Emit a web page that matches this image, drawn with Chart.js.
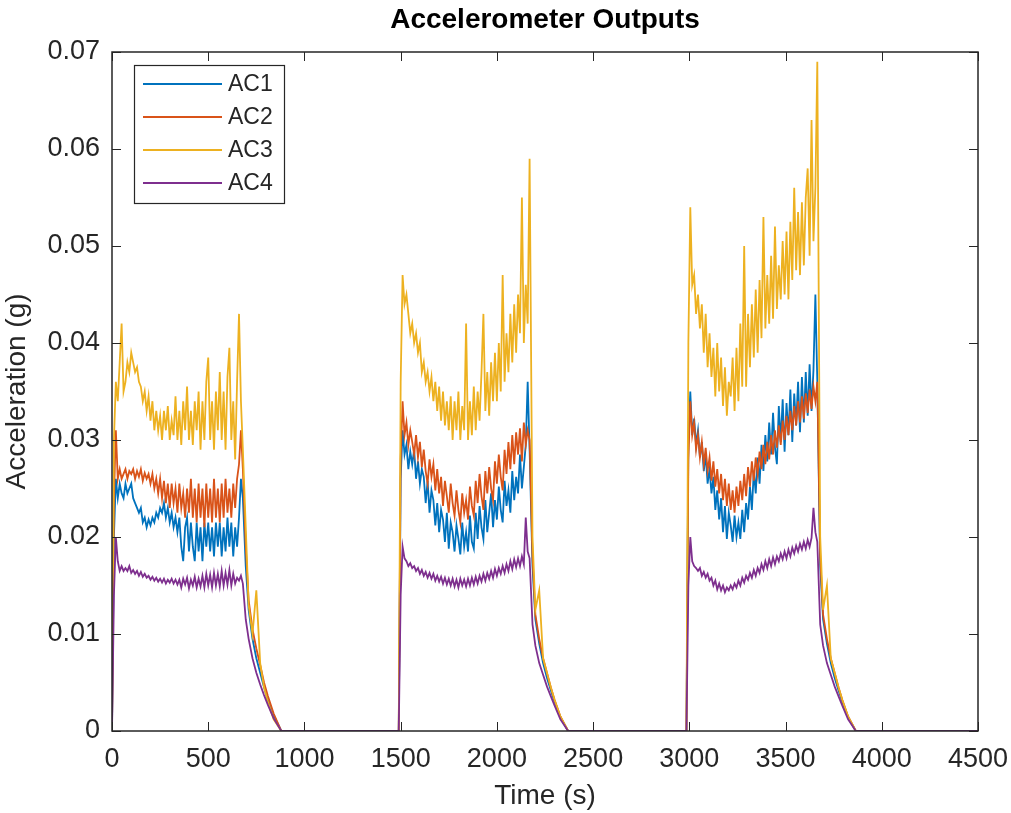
<!DOCTYPE html>
<html>
<head>
<meta charset="utf-8">
<title>Accelerometer Outputs</title>
<script src="https://cdn.jsdelivr.net/npm/chart.js@4.4.1/dist/chart.umd.min.js"></script>
<style>
  html, body { margin: 0; padding: 0; background: #fff; }
  #wrap { width: 1011px; height: 813px; }
</style>
</head>
<body>
<div id="wrap"><canvas id="accel" width="1011" height="813"></canvas></div>
<script>
// sample times (s): three test runs, each followed by the decay
const timeSec = [
  0, 10, 20, 30, 40, 50, 60, 70, 80, 90,
  100, 110, 120, 130, 140, 150, 160, 170, 180, 190,
  200, 210, 220, 230, 240, 250, 260, 270, 280, 290,
  300, 310, 320, 330, 340, 350, 360, 370, 380, 390,
  400, 410, 420, 430, 440, 450, 460, 470, 480, 490,
  500, 510, 520, 530, 540, 550, 560, 570, 580, 590,
  600, 610, 620, 630, 640, 650, 660, 670, 680,
  695, 710, 730, 750, 770, 790, 810, 840, 880,

  1490, 1500, 1510, 1520, 1530, 1540, 1550, 1560, 1570, 1580,
  1590, 1600, 1610, 1620, 1630, 1640, 1650, 1660, 1670, 1680,
  1690, 1700, 1710, 1720, 1730, 1740, 1750, 1760, 1770, 1780,
  1790, 1800, 1810, 1820, 1830, 1840, 1850, 1860, 1870, 1880,
  1890, 1900, 1910, 1920, 1930, 1940, 1950, 1960, 1970, 1980,
  1990, 2000, 2010, 2020, 2030, 2040, 2050, 2060, 2070, 2080,
  2090, 2100, 2110, 2120, 2130, 2140, 2150, 2160, 2170,
  2185, 2200, 2220, 2240, 2260, 2280, 2300, 2330, 2370,

  2985, 2995, 3005, 3015, 3025, 3035, 3045, 3055, 3065, 3075,
  3085, 3095, 3105, 3115, 3125, 3135, 3145, 3155, 3165, 3175,
  3185, 3195, 3205, 3215, 3225, 3235, 3245, 3255, 3265, 3275,
  3285, 3295, 3305, 3315, 3325, 3335, 3345, 3355, 3365, 3375,
  3385, 3395, 3405, 3415, 3425, 3435, 3445, 3455, 3465, 3475,
  3485, 3495, 3505, 3515, 3525, 3535, 3545, 3555, 3565, 3575,
  3585, 3595, 3605, 3615, 3625, 3635, 3645, 3655, 3665,
  3680, 3695, 3715, 3735, 3755, 3775, 3795, 3825, 3865,

  4500
];

// acceleration (g) per sensor
const ac1 = [
  0, 0.020, 0.026, 0.024, 0.0255, 0.0245, 0.024, 0.0255, 0.0245, 0.025,
  0.0255, 0.024, 0.0235, 0.023, 0.0225, 0.023, 0.0215, 0.022, 0.021, 0.0218,
  0.0212, 0.022, 0.0215, 0.0225, 0.022, 0.023, 0.0225, 0.0235, 0.022, 0.023,
  0.0215, 0.0225, 0.021, 0.022, 0.0205, 0.022, 0.019, 0.0175, 0.021, 0.022,
  0.0185, 0.0215, 0.019, 0.0175, 0.0215, 0.0185, 0.021, 0.0175, 0.0215, 0.019,
  0.0215, 0.0185, 0.021, 0.018, 0.0215, 0.019, 0.0215, 0.018, 0.021, 0.0185,
  0.022, 0.019, 0.0215, 0.018, 0.021, 0.019, 0.022, 0.026, 0.024,
  0.017, 0.0125, 0.0095, 0.0075, 0.006, 0.0045, 0.0032, 0.0016, 0,

  0, 0.026, 0.031, 0.0285, 0.0295, 0.027, 0.0288, 0.0275, 0.029, 0.026,
  0.0278, 0.0255, 0.027, 0.0262, 0.0235, 0.0258, 0.0225, 0.0248, 0.0238, 0.0212,
  0.0235, 0.0205, 0.0228, 0.0218, 0.0195, 0.0225, 0.0188, 0.0215, 0.0205, 0.0185,
  0.0212, 0.0198, 0.0182, 0.0215, 0.019, 0.0205, 0.0185, 0.0222, 0.0195, 0.0188,
  0.0225, 0.0198, 0.0232, 0.021, 0.0198, 0.0238, 0.0205, 0.0225, 0.0245, 0.021,
  0.0238, 0.0218, 0.0252, 0.0228, 0.0215, 0.0258, 0.0232, 0.0248, 0.0225, 0.0268,
  0.0238, 0.0262, 0.0245, 0.0285, 0.025, 0.0272, 0.0295, 0.036, 0.029,
  0.017, 0.0115, 0.009, 0.007, 0.0055, 0.0042, 0.003, 0.0014, 0,

  0, 0.030, 0.035, 0.0305, 0.0322, 0.0295, 0.031, 0.0282, 0.0298, 0.0268,
  0.0285, 0.0255, 0.027, 0.0245, 0.0262, 0.0228, 0.0248, 0.0218, 0.024, 0.0205,
  0.0232, 0.0198, 0.0225, 0.0212, 0.0195, 0.0222, 0.020, 0.0215, 0.0198, 0.0228,
  0.0205, 0.0235, 0.0218, 0.0252, 0.0228, 0.0268, 0.0245, 0.0282, 0.0255, 0.0295,
  0.0268, 0.0305, 0.0278, 0.0318, 0.0285, 0.0328, 0.0292, 0.0275, 0.0335, 0.0298,
  0.0342, 0.0288, 0.0338, 0.0305, 0.0352, 0.0298, 0.0348, 0.0315, 0.036, 0.0308,
  0.0365, 0.0318, 0.037, 0.0325, 0.0378, 0.033, 0.0372, 0.045, 0.036,
  0.017, 0.0115, 0.009, 0.007, 0.0055, 0.0042, 0.003, 0.0014, 0,

  0
];
const ac2 = [
  0, 0.024, 0.031, 0.026, 0.027, 0.026, 0.0265, 0.027, 0.026, 0.0268,
  0.0265, 0.027, 0.026, 0.0268, 0.0262, 0.027, 0.0258, 0.0266, 0.026, 0.0265,
  0.0255, 0.0265, 0.025, 0.026, 0.0245, 0.026, 0.024, 0.0258, 0.0235, 0.0255,
  0.023, 0.0255, 0.0235, 0.025, 0.0225, 0.0255, 0.023, 0.0245, 0.022, 0.025,
  0.0225, 0.026, 0.022, 0.025, 0.0215, 0.0255, 0.022, 0.025, 0.021, 0.0255,
  0.022, 0.025, 0.0215, 0.026, 0.022, 0.025, 0.0215, 0.0255, 0.022, 0.026,
  0.0225, 0.025, 0.022, 0.0255, 0.023, 0.026, 0.0275, 0.031, 0.027,
  0.019, 0.0135, 0.0105, 0.0085, 0.0068, 0.005, 0.0036, 0.0018, 0,

  0, 0.028, 0.034, 0.0305, 0.0318, 0.0295, 0.031, 0.0298, 0.0285, 0.0305,
  0.0282, 0.0298, 0.0272, 0.029, 0.0268, 0.0255, 0.028, 0.0262, 0.0275, 0.0248,
  0.027, 0.0245, 0.0262, 0.0232, 0.0258, 0.0242, 0.0225, 0.0255, 0.0235, 0.0222,
  0.0248, 0.0228, 0.0215, 0.0245, 0.0225, 0.0238, 0.0218, 0.0252, 0.0232, 0.0222,
  0.0258, 0.0235, 0.0265, 0.0242, 0.0228, 0.0268, 0.0245, 0.0272, 0.025, 0.0238,
  0.0278, 0.0255, 0.0285, 0.0262, 0.0248, 0.029, 0.0265, 0.0298, 0.027, 0.0305,
  0.0275, 0.0308, 0.0285, 0.0312, 0.0278, 0.0318, 0.0295, 0.031, 0.030,
  0.018, 0.012, 0.0095, 0.0075, 0.006, 0.0045, 0.0032, 0.0015, 0,

  0, 0.028, 0.034, 0.0305, 0.0318, 0.029, 0.0305, 0.0282, 0.0298, 0.0275,
  0.0292, 0.0268, 0.0282, 0.0258, 0.0278, 0.0252, 0.027, 0.0245, 0.0265, 0.0238,
  0.026, 0.0232, 0.0255, 0.0228, 0.0248, 0.0225, 0.0252, 0.0232, 0.0258, 0.0238,
  0.0265, 0.0242, 0.0272, 0.0252, 0.0278, 0.0258, 0.0282, 0.0265, 0.0288, 0.027,
  0.0295, 0.0275, 0.0298, 0.028, 0.0305, 0.0285, 0.031, 0.0292, 0.0315, 0.0295,
  0.032, 0.030, 0.0325, 0.0305, 0.033, 0.031, 0.0335, 0.0315, 0.034, 0.0318,
  0.0345, 0.0322, 0.0348, 0.0328, 0.0352, 0.0332, 0.0355, 0.034, 0.036,
  0.018, 0.012, 0.0095, 0.0075, 0.006, 0.0045, 0.0032, 0.0015, 0,

  0
];
const ac3 = [
  0, 0.030, 0.036, 0.034, 0.038, 0.042, 0.035, 0.036, 0.038, 0.037,
  0.039, 0.038, 0.037, 0.0375, 0.036, 0.0355, 0.034, 0.035, 0.033, 0.0345,
  0.032, 0.034, 0.031, 0.033, 0.031, 0.0325, 0.030, 0.033, 0.031, 0.0335,
  0.030, 0.032, 0.0305, 0.0345, 0.030, 0.033, 0.0295, 0.034, 0.031, 0.0355,
  0.030, 0.033, 0.0295, 0.034, 0.031, 0.035, 0.029, 0.034, 0.030, 0.036,
  0.0385, 0.030, 0.034, 0.029, 0.035, 0.031, 0.037, 0.030, 0.035, 0.029,
  0.0365, 0.0395, 0.030, 0.034, 0.028, 0.036, 0.043, 0.034, 0.029,
  0.021, 0.013, 0.010, 0.0145, 0.007, 0.0045, 0.003, 0.0012, 0,

  0, 0.036, 0.047, 0.044, 0.045, 0.043, 0.041, 0.042, 0.040, 0.041,
  0.039, 0.040, 0.037, 0.038, 0.036, 0.037, 0.035, 0.0365, 0.034, 0.036,
  0.033, 0.0355, 0.032, 0.035, 0.0315, 0.034, 0.031, 0.0345, 0.030, 0.034,
  0.031, 0.035, 0.030, 0.0335, 0.031, 0.042, 0.030, 0.034, 0.0305, 0.0355,
  0.031, 0.035, 0.032, 0.037, 0.043, 0.033, 0.037, 0.0325, 0.038, 0.034,
  0.039, 0.034, 0.040, 0.035, 0.047, 0.036, 0.041, 0.037, 0.043, 0.038,
  0.044, 0.039, 0.045, 0.041, 0.055, 0.040, 0.046, 0.042, 0.059,
  0.020, 0.0125, 0.0145, 0.0075, 0.006, 0.0045, 0.0032, 0.0015, 0,

  0, 0.040, 0.054, 0.046, 0.047, 0.043, 0.045, 0.0415, 0.044, 0.039,
  0.043, 0.0375, 0.041, 0.0365, 0.0395, 0.0345, 0.040, 0.035, 0.0385, 0.0335,
  0.0375, 0.0325, 0.036, 0.0345, 0.0385, 0.033, 0.0395, 0.034, 0.042, 0.0355,
  0.050, 0.0355, 0.043, 0.0375, 0.044, 0.0385, 0.0455, 0.039, 0.0465, 0.0405,
  0.053, 0.0415, 0.047, 0.042, 0.049, 0.0425, 0.052, 0.0435, 0.048, 0.0445,
  0.0505, 0.045, 0.0515, 0.0445, 0.0525, 0.0465, 0.056, 0.0475, 0.0535, 0.047,
  0.0545, 0.048, 0.055, 0.058, 0.049, 0.063, 0.0505, 0.056, 0.069,
  0.020, 0.0125, 0.015, 0.0075, 0.006, 0.0045, 0.0032, 0.0015, 0,

  0
];
const ac4 = [
  0, 0.014, 0.020, 0.0175, 0.0165, 0.017, 0.0165, 0.0168, 0.0165, 0.017,
  0.0163, 0.0166, 0.0162, 0.0165, 0.016, 0.0164, 0.0159, 0.0162, 0.0158, 0.016,
  0.0156, 0.0159, 0.0155, 0.0158, 0.0154, 0.0157, 0.0153, 0.0157, 0.0152, 0.0156,
  0.0153, 0.0157, 0.0152, 0.0156, 0.0151, 0.0156, 0.0148, 0.0157, 0.0151, 0.0158,
  0.0147, 0.0156, 0.015, 0.0159, 0.0148, 0.0157, 0.0149, 0.016, 0.0148, 0.0162,
  0.015, 0.0161, 0.0148, 0.0163, 0.015, 0.0162, 0.0149, 0.0165, 0.015, 0.0163,
  0.0151, 0.0166, 0.015, 0.0162, 0.0152, 0.0158, 0.0155, 0.016, 0.0152,
  0.0115, 0.0095, 0.0075, 0.006, 0.0048, 0.0037, 0.0027, 0.0013, 0,

  0, 0.014, 0.019, 0.0178, 0.0175, 0.017, 0.0173, 0.0168, 0.017, 0.0165,
  0.0168, 0.0162, 0.0166, 0.016, 0.0164, 0.0158, 0.0163, 0.0157, 0.0162, 0.0155,
  0.016, 0.0154, 0.0159, 0.0152, 0.0158, 0.0151, 0.0157, 0.015, 0.0157, 0.0149,
  0.0156, 0.0148, 0.0157, 0.015, 0.0156, 0.0149, 0.0157, 0.015, 0.0158, 0.0151,
  0.0159, 0.0152, 0.016, 0.0154, 0.0162, 0.0155, 0.0163, 0.0157, 0.0165, 0.0158,
  0.0167, 0.016, 0.0168, 0.0162, 0.017, 0.0163, 0.0172, 0.0165, 0.0175, 0.0167,
  0.0177, 0.0169, 0.0178, 0.017, 0.018, 0.0172, 0.022, 0.0185, 0.0178,
  0.011, 0.0088, 0.007, 0.0058, 0.0046, 0.0036, 0.0026, 0.0012, 0,

  0, 0.015, 0.020, 0.0175, 0.017, 0.0168, 0.0165, 0.0168, 0.016, 0.0164,
  0.0158, 0.0162, 0.0155, 0.0158, 0.015, 0.0155, 0.0146, 0.0152, 0.0145, 0.015,
  0.0143, 0.0148, 0.0145, 0.015, 0.0146, 0.0152, 0.0148, 0.0155, 0.015, 0.0158,
  0.0153, 0.016, 0.0156, 0.0163, 0.0158, 0.0166, 0.016, 0.0168, 0.0163, 0.0172,
  0.0166, 0.0175, 0.0168, 0.0177, 0.017, 0.0179, 0.0172, 0.018, 0.0175, 0.0183,
  0.0177, 0.0185, 0.0178, 0.0187, 0.018, 0.0189, 0.0183, 0.0191, 0.0185, 0.0193,
  0.0187, 0.0195, 0.0188, 0.0197, 0.019, 0.0199, 0.023, 0.0205, 0.0195,
  0.011, 0.0088, 0.007, 0.0058, 0.0046, 0.0036, 0.0026, 0.0012, 0,

  0
];

const seriesNames = ['AC1', 'AC2', 'AC3', 'AC4'];
const seriesValues = [ac1, ac2, ac3, ac4];

// MATLAB default line colours
const lineColors = ['#0072BD', '#D95319', '#EDB120', '#7E2F8E'];
const axisColor = '#262626';
const FONT = '"Liberation Sans", Arial, Helvetica, sans-serif';

// title, inward ticks, boxed axes and legend, drawn MATLAB style
const matlabFrame = {
  id: 'matlabFrame',
  afterDatasetsDraw(chart) {
    const { ctx, chartArea: a, scales } = chart;
    const tickLen = 9;
    ctx.save();
    ctx.strokeStyle = axisColor;
    ctx.lineWidth = 1;

    ctx.beginPath();
    scales.x.ticks.forEach(t => {
      const px = Math.round(scales.x.getPixelForValue(t.value)) + 0.5;
      ctx.moveTo(px, a.bottom); ctx.lineTo(px, a.bottom - tickLen);
      ctx.moveTo(px, a.top); ctx.lineTo(px, a.top + tickLen);
    });
    scales.y.ticks.forEach(t => {
      const py = Math.round(scales.y.getPixelForValue(t.value)) + 0.5;
      ctx.moveTo(a.left, py); ctx.lineTo(a.left + tickLen, py);
      ctx.moveTo(a.right, py); ctx.lineTo(a.right - tickLen, py);
    });
    ctx.stroke();

    ctx.lineWidth = 1.5;
    ctx.strokeRect(a.left, a.top, a.right - a.left, a.bottom - a.top);

    // legend box, upper left
    const bx = a.left + 22, by = a.top + 13, bw = 150, bh = 138;
    ctx.fillStyle = '#fff';
    ctx.fillRect(bx, by, bw, bh);
    ctx.lineWidth = 1.2;
    ctx.strokeRect(bx + 0.5, by + 0.5, bw, bh);
    ctx.font = `23px ${FONT}`;
    ctx.textBaseline = 'middle';
    seriesNames.forEach((name, i) => {
      const y = by + 19 + i * 33;
      ctx.beginPath();
      ctx.strokeStyle = lineColors[i];
      ctx.lineWidth = 1.8;
      ctx.moveTo(bx + 9, y); ctx.lineTo(bx + 88, y);
      ctx.stroke();
      ctx.fillStyle = axisColor;
      ctx.fillText(name, bx + 94, y + 1);
    });

    // title
    ctx.fillStyle = '#000';
    ctx.font = `bold 28px ${FONT}`;
    ctx.textAlign = 'center';
    ctx.fillText('Accelerometer Outputs', (a.left + a.right) / 2, 20);
    ctx.restore();
  }
};

const datasets = seriesValues.map((vals, i) => ({
  label: seriesNames[i],
  data: timeSec.map((t, k) => ({ x: t, y: vals[k] })),
  borderColor: lineColors[i],
  backgroundColor: lineColors[i],
  borderWidth: 1.8,
  pointRadius: 0,
  tension: 0,
  fill: false,
  order: seriesNames.length - i // last series on top
}));

new Chart(document.getElementById('accel'), {
  type: 'line',
  data: { datasets },
  options: {
    responsive: false,
    animation: false,
    layout: { padding: { top: 52, right: 33, left: 0, bottom: 0 } },
    plugins: {
      legend: { display: false },
      tooltip: { enabled: false }
    },
    scales: {
      x: {
        type: 'linear',
        min: 0,
        max: 4500,
        grid: { display: false, drawTicks: false },
        border: { display: false },
        ticks: {
          stepSize: 500,
          color: axisColor,
          padding: 12,
          maxRotation: 0,
          font: { family: FONT, size: 27 },
          callback: v => String(v)
        },
        title: {
          display: true,
          text: 'Time (s)',
          color: axisColor,
          font: { family: FONT, size: 28 },
          padding: { top: 2, bottom: 0 }
        },
        afterFit: s => { s.height = 82; s.paddingLeft = 0; s.paddingRight = 0; }
      },
      y: {
        min: 0,
        max: 0.07,
        grid: { display: false, drawTicks: false },
        border: { display: false },
        ticks: {
          stepSize: 0.01,
          color: axisColor,
          padding: 12,
          font: { family: FONT, size: 27 },
          callback: v => String(+v.toFixed(2))
        },
        title: {
          display: true,
          text: 'Acceleration (g)',
          color: axisColor,
          font: { family: FONT, size: 28 },
          padding: { top: 0, bottom: 4 }
        },
        afterFit: s => { s.width = 112; }
      }
    }
  },
  plugins: [matlabFrame]
});
</script>
</body>
</html>
